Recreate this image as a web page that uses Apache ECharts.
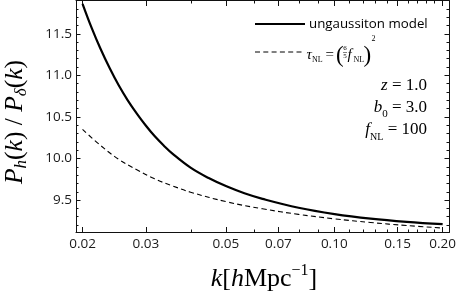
<!DOCTYPE html>
<html><head><meta charset="utf-8">
<script src="https://cdn.jsdelivr.net/npm/echarts@6/dist/echarts.min.js"></script>
<style>html,body{margin:0;padding:0;background:#fff}#c{width:459px;height:292px}</style>
</head><body><div id="c"></div>
<script>
// ---- data ----
const kSolid = [0.0200,0.0212,0.0224,0.0238,0.0252,0.0267,0.0283,0.0300,0.0317,0.0336,0.0356,0.0399,0.0448,0.0502,0.0563,0.0632,0.0796,0.1002,0.1262,0.1589,0.2000];
const ratioSolid = [11.86,11.57,11.325,11.084,10.88,10.70,10.54,10.394,10.27,10.157,10.056,9.89,9.765,9.665,9.582,9.515,9.408,9.332,9.277,9.238,9.21];
const kDashed = [0.0200,0.0224,0.0252,0.0283,0.0317,0.0356,0.0399,0.0502,0.0632,0.0796,0.1002,0.1262,0.1589,0.2000];
const ratioDashed = [10.35,10.16,9.99,9.865,9.755,9.67,9.595,9.48,9.395,9.328,9.274,9.23,9.194,9.164];
const xMajorTicks = [0.02,0.03,0.05,0.07,0.10,0.15,0.20];
const xTickLabels = ['0.02','0.03','0.05','0.07','0.10','0.15','0.20'];
const xMinorTicks = [0.04,0.06,0.08,0.09,0.11,0.12,0.13,0.14,0.16,0.17,0.18,0.19];
const yMajorTicks = [9.5,10.0,10.5,11.0,11.5];
const yTickLabels = ['9.5','10.0','10.5','11.0','11.5'];
const yMinorTicks = [9.2,9.3,9.4,9.6,9.7,9.8,9.9,10.1,10.2,10.3,10.4,10.6,10.7,10.8,10.9,11.1,11.2,11.3,11.4,11.6,11.7,11.8];
const xRange = [0.01918, 0.2083];
const yRange = [9.11, 11.9];
const legendNames = ['ungaussiton model', 'τNL = (6/5 fNL)^2'];

const L = Math.log10;
const toXY = (ks, vs) => ks.map((k, i) => [L(k), vs[i]]);

const chart = echarts.init(document.getElementById('c'), null, {renderer: 'canvas'});
const ink = '#111';
const tickFont = {fontFamily: 'Open Sans', fontSize: 13.5, color: '#1a1a1a'};

function xAx(pos, major, labels) {
  return {
    type: 'value', position: pos, min: L(xRange[0]), max: L(xRange[1]),
    axisLine: {show: major, lineStyle: {color: ink, width: 1}},
    splitLine: {show: false},
    axisTick: {show: true, inside: true, length: major ? 5.5 : 3,
      lineStyle: {color: ink, width: 1},
      customValues: (major ? xMajorTicks : xMinorTicks).map(L)},
    axisLabel: labels ? Object.assign({show: true, margin: 5,
      customValues: xMajorTicks.map(L),
      formatter: v => {
        let best = 0;
        xMajorTicks.forEach((t, i) => { if (Math.abs(L(t) - v) < Math.abs(L(xMajorTicks[best]) - v)) best = i; });
        return xTickLabels[best];
      }}, tickFont) : {show: false}
  };
}
function yAx(pos, major, labels) {
  return {
    type: 'value', position: pos, min: yRange[0], max: yRange[1],
    axisLine: {show: major, lineStyle: {color: ink, width: 1}},
    splitLine: {show: false},
    axisTick: {show: true, inside: true, length: major ? 4.5 : 2.5,
      lineStyle: {color: ink, width: 1},
      customValues: major ? yMajorTicks : yMinorTicks},
    axisLabel: labels ? Object.assign({show: true, margin: 4,
      customValues: yMajorTicks,
      formatter: v => {
        let best = 0;
        yMajorTicks.forEach((t, i) => { if (Math.abs(t - v) < Math.abs(yMajorTicks[best] - v)) best = i; });
        return yTickLabels[best];
      }}, tickFont) : {show: false}
  };
}

const serif = 'Liberation Serif';
function mt(x, base, str, size, italic, align) {
  return {type: 'text', x: x, y: base - 0.35 * size, silent: true,
    style: {text: str, fontFamily: serif, fontSize: size, fontStyle: italic ? 'italic' : 'normal',
      fill: '#000', align: align || 'left', verticalAlign: 'middle'}};
}

const graphics = [
  // legend
  {type: 'line', shape: {x1: 255, y1: 24, x2: 305, y2: 24}, style: {stroke: '#000', lineWidth: 2.2}},
  {type: 'text', x: 309, y: 24, style: {text: legendNames[0], fontFamily: 'Open Sans', fontSize: 13.3, fill: '#000', verticalAlign: 'middle'}},
  {type: 'line', shape: {x1: 255, y1: 52, x2: 304, y2: 52}, style: {stroke: '#000', lineWidth: 1, lineDash: [5, 3.3]}},
  mt(306.5, 60, 'τ', 15, true),
  mt(312, 62.5, 'NL', 8, false),
  mt(325.5, 60, '=', 15, false),
  mt(336, 64, '(', 23, false),
  mt(345, 50.5, '6', 7, false, 'center'),
  {type: 'line', shape: {x1: 343, y1: 52.5, x2: 347, y2: 52.5}, style: {stroke: '#000', lineWidth: 0.5}},
  mt(345, 58.5, '5', 7, false, 'center'),
  mt(347.5, 60, 'f', 15, true),
  mt(353.5, 62.5, 'NL', 8, false),
  mt(363.5, 64, ')', 23, false),
  mt(371.5, 41.5, '2', 8, false),
  // parameter annotations
  {type: 'text', x: 427, y: 86, style: {text: '{i|z} = 1.0', align: 'right', verticalAlign: 'middle', fontFamily: serif, fontSize: 17, fill: '#000',
    rich: {i: {fontFamily: serif, fontSize: 17, fontStyle: 'italic'}}}},
  {type: 'text', x: 427, y: 108, style: {text: '{i|b}{s|0} = 3.0', align: 'right', verticalAlign: 'middle', fontFamily: serif, fontSize: 17, fill: '#000', lineHeight: 24,
    rich: {i: {fontFamily: serif, fontSize: 17, fontStyle: 'italic', lineHeight: 24}, s: {fontFamily: serif, fontSize: 11, lineHeight: 10, verticalAlign: 'bottom'}}}},
  {type: 'text', x: 427, y: 130, style: {text: '{i|f}{s|NL} = 100', align: 'right', verticalAlign: 'middle', fontFamily: serif, fontSize: 17, fill: '#000', lineHeight: 24,
    rich: {i: {fontFamily: serif, fontSize: 17, fontStyle: 'italic', lineHeight: 24}, s: {fontFamily: serif, fontSize: 10, lineHeight: 10, verticalAlign: 'bottom'}}}},
  // axis titles
  {type: 'text', x: 264, y: 279, style: {text: '{i|k}[{i|h}Mpc{u|−1}]', align: 'center', verticalAlign: 'middle', fontFamily: serif, fontSize: 26, fill: '#000', lineHeight: 32,
    rich: {i: {fontFamily: serif, fontSize: 26, fontStyle: 'italic', lineHeight: 32}, u: {fontFamily: serif, fontSize: 16, lineHeight: 14, verticalAlign: 'top'}}}},
  {type: 'text', x: 15, y: 122, rotation: Math.PI / 2, style: {text: '{i|P}{s|h}({i|k}) / {i|P}{s|δ}({i|k})', align: 'center', verticalAlign: 'middle', fontFamily: serif, fontSize: 25.5, fill: '#000', lineHeight: 30,
    rich: {i: {fontFamily: serif, fontSize: 25.5, fontStyle: 'italic', lineHeight: 30}, s: {fontFamily: serif, fontSize: 17, fontStyle: 'italic', lineHeight: 14, verticalAlign: 'bottom'}}}}
];

chart.setOption({
  animation: false,
  backgroundColor: '#fff',
  grid: {left: 76, right: 8.5, top: 0.5, bottom: 59.5, containLabel: false},
  xAxis: [xAx('bottom', true, true), xAx('bottom', false, false), xAx('top', true, false), xAx('top', false, false)],
  yAxis: [yAx('left', true, true), yAx('left', false, false), yAx('right', true, false), yAx('right', false, false)],
  series: [
    {name: legendNames[0], type: 'line', xAxisIndex: 0, yAxisIndex: 0, data: toXY(kSolid, ratioSolid), showSymbol: false, smooth: 0.4,
      lineStyle: {color: '#000', width: 2.2}},
    {name: legendNames[1], type: 'line', xAxisIndex: 0, yAxisIndex: 0, data: toXY(kDashed, ratioDashed), showSymbol: false, smooth: 0.4,
      lineStyle: {color: '#000', width: 1.1, type: [5, 3.3]}}
  ],
  graphic: graphics
});
</script></body></html>
